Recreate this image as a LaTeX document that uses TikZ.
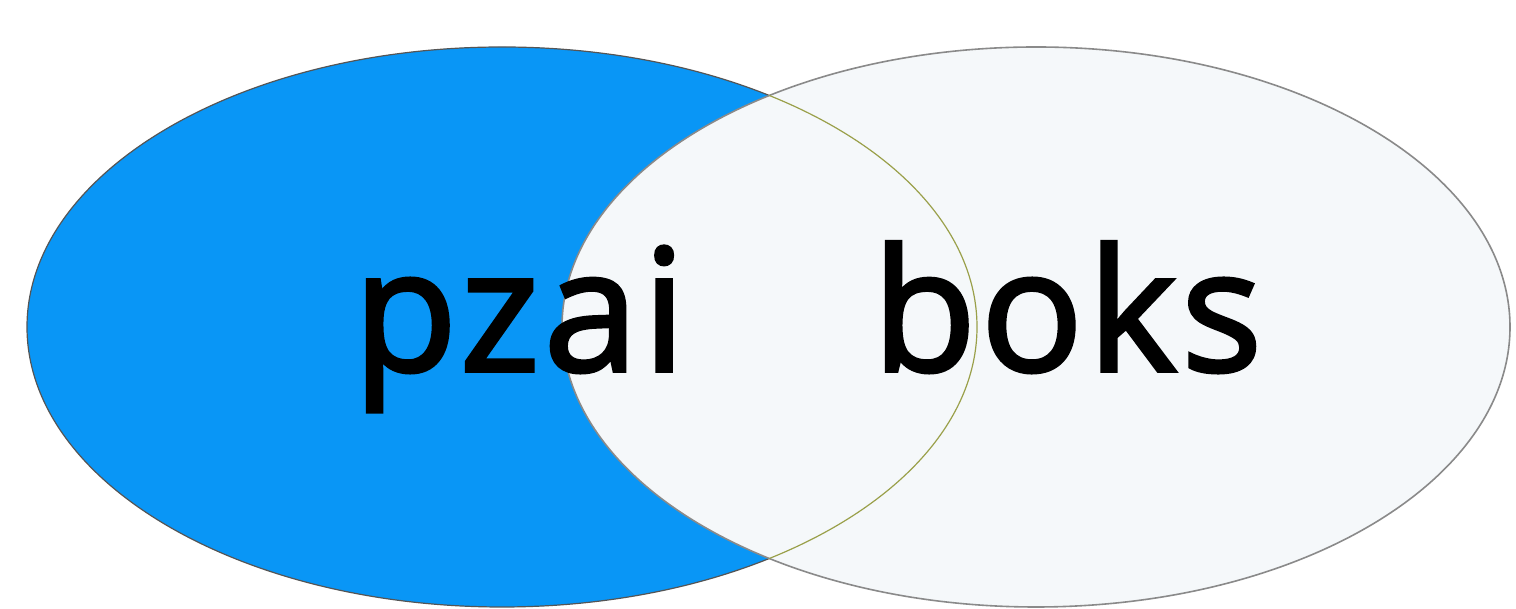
\documentclass[tikz,border=0pt]{standalone}
\usepackage{fontspec}
\setmainfont{Open Sans}
\newfontfamily\lblfont{Open Sans}[FakeBold=2.2,LetterSpace=2.5]
\definecolor{vblue}{HTML}{0996F6}
\definecolor{vlight}{HTML}{F5F8FA}
\definecolor{vleftline}{HTML}{555555}
\definecolor{vrightline}{HTML}{8A8A8A}
\definecolor{volive}{HTML}{9AA04A}
\tikzset{
  lbl/.style={anchor=base west, inner sep=0pt, text=black, font=\lblfont\fontsize{170}{200}\selectfont}
}
\begin{document}
\begin{tikzpicture}[x=1pt,y=1pt]
\useasboundingbox (0,0) rectangle (1516,609);
\fill[white] (0,0) rectangle (1516,609);
\coordinate (cl) at (502,282);
\coordinate (cr) at (1036,282);
\filldraw[fill=vblue, draw=vleftline, line width=1.2pt] (cl) ellipse [x radius=475, y radius=280];
\filldraw[fill=vlight, draw=vrightline, line width=1.6pt] (cr) ellipse [x radius=474, y radius=280];
\begin{scope}
  \clip (cr) ellipse [x radius=474, y radius=280];
  \draw[volive, line width=1.2pt] (cl) ellipse [x radius=475, y radius=280];
\end{scope}
\node[lbl] (pzai) at (353,238) {pzai};
\node[lbl] (boks) at (872,238) {boks};
\end{tikzpicture}
\end{document}
